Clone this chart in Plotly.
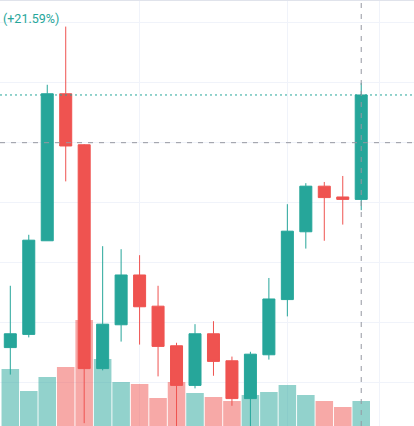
import plotly.graph_objects as go

# ---- data ----
idx = list(range(20))
open_ = [5.59, 5.81, 7.37, 9.82, 8.97, 5.24, 5.97, 6.80, 6.28, 5.62,
         4.96, 5.82, 5.37, 4.74, 5.47, 6.39, 7.52, 8.28, 8.10, 8.06]
high = [6.62, 7.47, 9.97, 10.94, 8.98, 7.28, 7.23, 7.13, 6.62, 5.67,
        5.98, 6.03, 5.44, 5.52, 6.75, 7.98, 8.33, 8.35, 8.45, 10.00]
low = [5.14, 5.76, 7.37, 8.36, 4.33, 5.21, 5.69, 5.64, 5.11, 4.18,
       4.91, 5.12, 4.62, 4.22, 5.39, 6.11, 7.24, 7.37, 7.64, 7.88]
close = [5.82, 7.38, 9.82, 8.95, 5.24, 5.98, 6.80, 6.27, 5.61, 4.96,
         5.82, 5.36, 4.74, 5.48, 6.40, 7.53, 8.28, 8.09, 8.06, 9.80]
volume = [5.7, 3.5, 4.9, 5.9, 10.6, 6.7, 4.4, 4.2, 2.8, 4.4,
          3.3, 2.9, 2.5, 3.1, 3.4, 4.1, 3.1, 2.5, 1.9, 2.5]
crosshair_price = 9.005
crosshair_index = 19
time_grid = [7, 15, 20]

UP = "#26a69a"
DOWN = "#ef5350"
UP_VOL = "rgba(38,166,154,0.5)"
DOWN_VOL = "rgba(239,83,80,0.5)"
GRID = "#f0f3fa"

vol_colors = [UP_VOL if c >= o else DOWN_VOL for o, c in zip(open_, close)]

fig = go.Figure()
fig.add_trace(go.Bar(
    x=idx, y=volume, marker=dict(color=vol_colors, line=dict(width=0)),
    width=0.95, xaxis="x", yaxis="y", showlegend=False, hoverinfo="skip"))
fig.add_trace(go.Candlestick(
    x=idx, open=open_, high=high, low=low, close=close,
    increasing=dict(line=dict(color=UP, width=1), fillcolor=UP),
    decreasing=dict(line=dict(color=DOWN, width=1), fillcolor=DOWN),
    whiskerwidth=0, xaxis="x", yaxis="y2", showlegend=False,
    hoverinfo="skip"))

pct = (close[-1] - open_[-1]) / open_[-1] * 100

fig.update_layout(
    width=414, height=426,
    margin=dict(l=0, r=0, t=0, b=0),
    paper_bgcolor="white", plot_bgcolor="white",
    boxgap=0.35, boxgroupgap=0,
    showlegend=False,
    hovermode=False,
    xaxis=dict(range=[-0.558, 21.857], tickvals=time_grid, showticklabels=False,
               showgrid=True, gridcolor=GRID, gridwidth=1, zeroline=False,
               rangeslider=dict(visible=False), ticks=""),
    yaxis=dict(range=[0, 42.6], showgrid=False, zeroline=False,
               showticklabels=False, ticks=""),
    yaxis2=dict(range=[4.283, 11.383], overlaying="y", dtick=1, tick0=0,
                showgrid=True, gridcolor=GRID, gridwidth=1, zeroline=False,
                showticklabels=False, ticks=""),
    shapes=[
        dict(type="line", xref="paper", x0=0, x1=1, yref="paper", y0=1, y1=1,
             line=dict(color="#e0e3eb", width=2)),
        dict(type="line", xref="paper", x0=0, x1=1, yref="y2",
             y0=close[-1], y1=close[-1],
             line=dict(color=UP, width=1, dash="2px,3px")),
        dict(type="line", xref="paper", x0=0, x1=1, yref="y2",
             y0=crosshair_price, y1=crosshair_price,
             line=dict(color="#9598a1", width=1, dash="5px,6px")),
        dict(type="line", xref="x", x0=crosshair_index, x1=crosshair_index,
             yref="paper", y0=0, y1=1,
             line=dict(color="#9598a1", width=1, dash="5px,6px")),
    ],
    annotations=[
        dict(text=f"(+{pct:.2f}%)", xref="paper", yref="paper",
             x=0, y=1 - 19 / 426, xanchor="left", yanchor="middle",
             xshift=1, showarrow=False,
             font=dict(family="Roboto", size=12.5, color=UP)),
    ],
)

fig.write_html("out.html", config={"displayModeBar": False, "staticPlot": True},
               post_script="document.body.style.margin='0';document.body.style.overflow='hidden';")
